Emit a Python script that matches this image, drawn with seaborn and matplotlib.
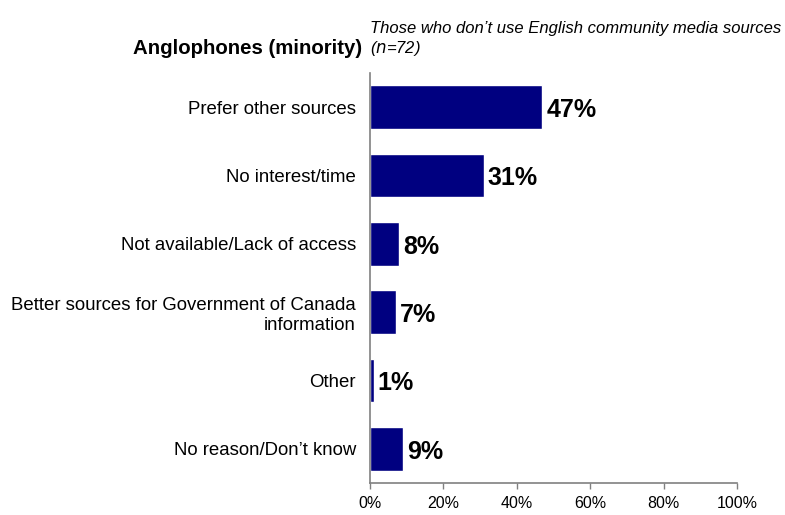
import matplotlib
matplotlib.use("Agg")
import matplotlib.pyplot as plt
import seaborn as sns
import pandas as pd

categories = [
    "Prefer other sources",
    "No interest/time",
    "Not available/Lack of access",
    "Better sources for Government of Canada\ninformation",
    "Other",
    "No reason/Don\u2019t know",
]
values = [47, 31, 8, 7, 1, 9]
x_ticks = [0, 20, 40, 60, 80, 100]
x_tick_labels = ["0%", "20%", "40%", "60%", "80%", "100%"]

sns.set_theme(style="white")
plt.rcParams["font.family"] = ["Liberation Sans", "DejaVu Sans"]
plt.rcParams["text.color"] = "black"
plt.rcParams["xtick.color"] = "black"
plt.rcParams["ytick.color"] = "black"

df = pd.DataFrame({"category": categories, "value": values})

fig = plt.figure(figsize=(7.85, 5.15), dpi=100)
ax = fig.add_axes([0.4713, 0.0621, 0.4676, 0.7962])

sns.barplot(data=df, x="value", y="category", orient="h", color="#000080",
            saturation=1, width=0.64, ax=ax)

ax.set_xlim(0, 100)
ax.set_ylim(len(categories) - 0.5, -0.5)
ax.set_xticks(x_ticks)
ax.set_xticklabels(x_tick_labels, fontsize=11.5)
ax.set_xlabel("")
ax.set_ylabel("")
ax.tick_params(axis="x", direction="out", length=4, width=1, color="#808080",
               labelcolor="black", pad=5, bottom=True)
ax.tick_params(axis="y", length=0, pad=10, labelsize=13.4, labelcolor="black")
for lbl in ax.get_yticklabels():
    lbl.set_horizontalalignment("right")
    lbl.set_multialignment("right")

for side in ("top", "right"):
    ax.spines[side].set_visible(False)
for side in ("left", "bottom"):
    ax.spines[side].set_color("#808080")
    ax.spines[side].set_linewidth(1.2)

for i, v in enumerate(values):
    ax.annotate(f"{v}%", xy=(v, i), xytext=(3, -2), textcoords="offset points",
                ha="left", va="center", fontsize=18, fontweight="bold",
                color="black")

fig.text(0.461, 0.905, "Anglophones (minority)", ha="right", va="center",
         fontsize=14.7, fontweight="bold", color="black")
fig.text(0.471, 0.945, "Those who don\u2019t use English community media sources",
         ha="left", va="center", fontsize=12, style="italic", color="black")
fig.text(0.471, 0.905, "($\\it{n}$=72)", ha="left", va="center",
         fontsize=12, style="italic", color="black")

fig.savefig("out.png", dpi=100)
